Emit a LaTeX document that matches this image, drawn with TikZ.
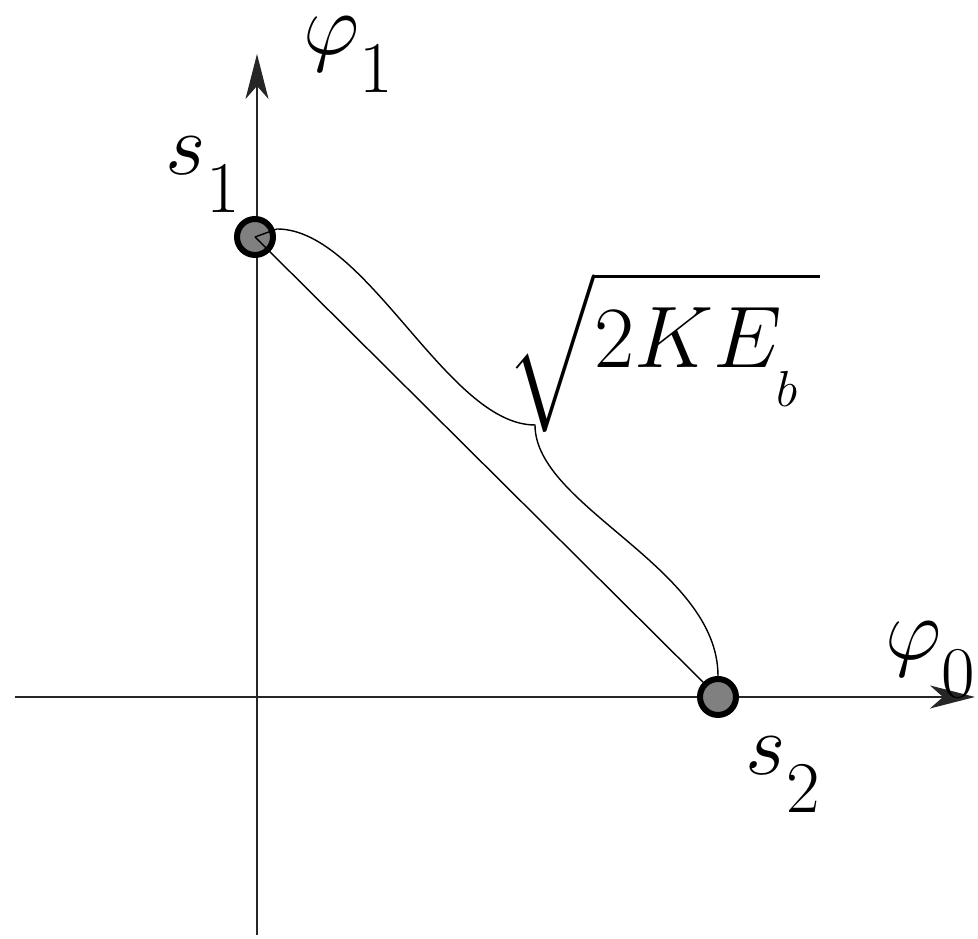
\documentclass[tikz,border=0pt]{standalone}
\usepackage{amsmath}
\usepackage{tikz}
\usetikzlibrary{arrows.meta,positioning,calc}

\newcommand{\lowsub}[1]{_{\raisebox{-0.24em}{$\scriptstyle #1$}}}

\begin{document}
\begin{tikzpicture}
            \tikzset{
                vac/.style={
                    circle,
                    draw,
                    line width=0.06cm,
                    fill=gray,
                    minimum size=0.36cm,
                    inner sep=0pt
                }
            }
            \tikzset{
                axis/.style={
                    black!85,
                    thin,
                    -{Stealth[length=4.5mm, width=2.3mm, inset=1.3mm]}
                }
            }
            \tikzset{
                orbit/.style={
                    thin
                }
            }
            \tikzset{
                lbl/.style={
                    inner sep=0pt,
                    font=\fontsize{29}{35}\selectfont
                }
            }

            \useasboundingbox (-2.57,-2.42) rectangle (7.21,6.97);

            \coordinate (xl) at (-2.42,0);
            \coordinate (xr) at (7.18,0);
            \coordinate (yb) at (0,-2.38);
            \coordinate (yt) at (0,6.43);

            \draw[axis] (xl) -- (xr);
            \draw[axis] (yb) -- (yt);

            \node[vac] (s1) at (-0.02,4.60) {};
            \node[vac] (s2) at (4.61,0) {};

            \coordinate (c1) at (0.2,4.68);
            \coordinate (K) at (2.78,2.72);

            \draw[orbit] (s1.center) -- (s2);
            \draw[orbit] (s1.center) -- (c1)
                .. controls (1.1,4.68) and (1.9,2.72) .. (K)
                .. controls (2.78,1.9) and (4.61,1.3) .. (s2.north);

            \node[lbl, anchor=base west] (l1) at (-0.92,5.22) {$s\lowsub{1}$};
            \node[lbl, anchor=base west] (l2) at (4.88,-0.78) {$s\lowsub{2}$};
            \node[lbl, anchor=base west] (f1) at (0.46,6.42) {$\varphi\lowsub{1}$};
            \node[lbl, anchor=base west] (f0) at (6.28,0.37) {$\varphi\lowsub{0}$};
            \node[lbl, anchor=base west] (ke) at (2.49,3.29)
                {$\sqrt{2KE_{\raisebox{-0.25em}{$\scriptscriptstyle b$}}\hspace{0.2em}}$};
        \end{tikzpicture}
\end{document}
